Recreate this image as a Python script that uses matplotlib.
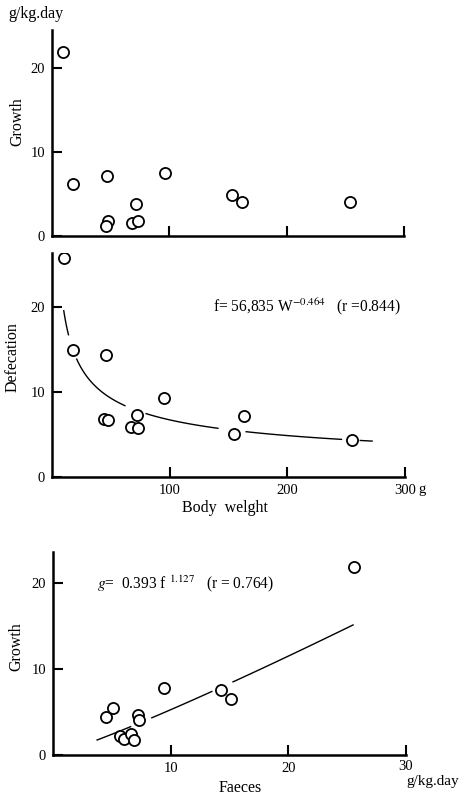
import numpy as np
import matplotlib
matplotlib.use("Agg")
import matplotlib.pyplot as plt

plt.rcParams["font.family"] = ["Liberation Serif", "DejaVu Serif"]
plt.rcParams["mathtext.fontset"] = "stix"

# body weight (g) vs growth (g/kg.day)
weight_g = [9, 18, 47, 48, 46, 68, 73, 72, 96, 153, 162, 254]
growth_w = [21.9, 6.2, 7.1, 1.8, 1.2, 1.6, 1.8, 3.8, 7.5, 4.9, 4.0, 4.0]

# body weight (g) vs defecation (g/kg.day)
weight_d = [10, 18, 46, 44, 48, 67, 72, 73, 95, 155, 163, 255]
defecation = [25.7, 14.9, 14.3, 6.8, 6.7, 5.9, 7.3, 5.7, 9.3, 5.1, 7.2, 4.3]

# faeces vs growth
faeces = [25.6, 4.5, 5.1, 5.7, 6.0, 6.6, 6.9, 7.2, 7.3, 9.4, 14.3, 15.1]
growth_f = [21.9, 4.4, 5.5, 2.2, 1.9, 2.4, 1.7, 4.6, 4.1, 7.8, 7.6, 6.5]

# visible pieces of the fitted lines (broken near the points)
defec_pieces = [(10, 14), (21, 62), (80, 141), (165, 246), (262, 272)]
growth_pieces = [(3.75, 6.6), (8.4, 13.5), (15.3, 25.5)]

fig = plt.figure(figsize=(4.61, 7.96), dpi=100)
W, H = 461, 796


def make_ax(left, right, top, bottom):
    ax = fig.add_axes([left / W, 1 - bottom / H, (right - left) / W, (bottom - top) / H])
    for s in ("top", "right"):
        ax.spines[s].set_visible(False)
    for s in ("left", "bottom"):
        ax.spines[s].set_linewidth(1.8)
    ax.tick_params(direction="in", length=7, width=1.5, labelsize=10.5, pad=5)
    return ax


mk = dict(marker="o", ls="none", ms=8, mfc="white", mec="black", mew=1.3)

# top panel
ax1 = make_ax(52, 404, 30, 236)
ax1.plot(weight_g, growth_w, **mk)
ax1.set_xlim(0, 300)
ax1.set_ylim(0, 24.5)
ax1.set_xticks([100, 200, 300])
ax1.set_xticklabels([])
ax1.set_yticks([0, 10, 20])
ax1.set_ylabel("Growth", fontsize=11.5)
ax1.yaxis.set_label_coords(-0.077, 0.553)
fig.text(8 / W, 1 - 14 / H, "g/kg.day", fontsize=11.5, va="center", ha="left")

# middle panel
ax2 = make_ax(52, 405, 253, 477)
for a, b in defec_pieces:
    x = np.linspace(a, b, 40)
    ax2.plot(x, 56.835 * x ** -0.464, color="black", lw=1.0)
ax2.plot(weight_d, defecation, **mk)
ax2.set_xlim(0, 300)
ax2.set_ylim(0, 26.3)
ax2.set_xticks([100, 200, 300])
ax2.set_xticklabels(["100", "200", "300"])
ax2.set_yticks([0, 10, 20])
ax2.set_ylabel("Defecation", fontsize=11.5)
ax2.yaxis.set_label_coords(-0.088, 0.537)
ax2.set_xlabel("Body  welght", fontsize=11.5)
ax2.xaxis.set_label_coords(0.49, -0.103)
fig.text(418 / W, 1 - 489 / H, "g", fontsize=10.5, va="center", ha="left")
ax2.text(0.455, 0.76, r"f= 56,835 W$^{-0.464}$   (r =0.844)", transform=ax2.transAxes,
         fontsize=11.2, va="center", ha="left")

# bottom panel
ax3 = make_ax(53, 406, 552, 755)
for a, b in growth_pieces:
    x = np.linspace(a, b, 40)
    ax3.plot(x, 0.393 * x ** 1.127, color="black", lw=1.0)
ax3.plot(faeces, growth_f, **mk)
ax3.set_xlim(0, 30)
ax3.set_ylim(0, 23.6)
ax3.set_xticks([10, 20, 30])
ax3.set_yticks([0, 10, 20])
ax3.get_xticklabels()[2].set_y(0.012)
ax3.set_ylabel("Growth", fontsize=11.5)
ax3.yaxis.set_label_coords(-0.082, 0.533)
ax3.set_xlabel("Faeces", fontsize=11.5)
ax3.xaxis.set_label_coords(0.53, -0.123)
ax3.text(0.125, 0.845, r"$\it{g}$=  0.393 f $^{1.127}$   (r = 0.764)", transform=ax3.transAxes,
         fontsize=11.2, va="center", ha="left")
fig.text(459 / W, 1 - 781 / H, "g/kg.day", fontsize=11, va="center", ha="right")

fig.savefig("out.png", dpi=100)
